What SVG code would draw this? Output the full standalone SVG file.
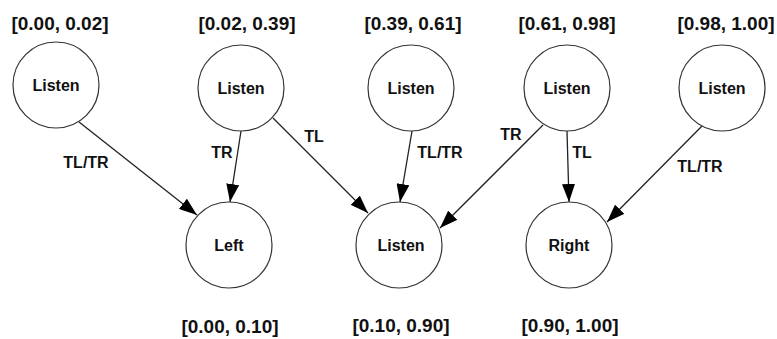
<svg xmlns="http://www.w3.org/2000/svg" width="777" height="339" viewBox="0 0 777 339">
<style>
.n{fill:#fff;stroke:#333;stroke-width:1.2}
.t{font-family:"Liberation Sans",Arial,sans-serif;font-weight:bold;fill:#111;text-anchor:middle}
.nl{font-size:16px}
.rl{font-size:19px}
.el{font-size:16px}
.e{stroke:#222;stroke-width:1.3;fill:none;marker-end:url(#ah)}
</style>
<defs>
<marker id="ah" markerUnits="userSpaceOnUse" markerWidth="18" markerHeight="13" viewBox="0 0 18 13" refX="18" refY="6.5" orient="auto">
<path d="M0,0 L18,6.5 L0,13 Z" fill="#000"/>
</marker>
</defs>
<g id="connectors">
<line class="e" x1="79" y1="122" x2="197" y2="215"/>
<line class="e" x1="241" y1="131" x2="230" y2="202"/>
<line class="e" x1="273" y1="118" x2="368" y2="213"/>
<line class="e" x1="412" y1="131" x2="400" y2="202"/>
<line class="e" x1="543" y1="125" x2="440" y2="228"/>
<line class="e" x1="567" y1="131" x2="569" y2="202"/>
<line class="e" x1="702" y1="126" x2="607" y2="222"/>
<text class="t el" x="86" y="168">TL/TR</text>
<text class="t el" x="222" y="158">TR</text>
<text class="t el" x="314" y="142">TL</text>
<text class="t el" x="440" y="158">TL/TR</text>
<text class="t el" x="511" y="140">TR</text>
<text class="t el" x="582" y="158">TL</text>
<text class="t el" x="700" y="172">TL/TR</text>
</g>
<g id="n1"><circle class="n" cx="56" cy="85" r="43"/><text class="t nl" x="56" y="91">Listen</text><text class="t rl" x="60" y="30">[0.00, 0.02]</text></g>
<g id="n2"><circle class="n" cx="241" cy="88" r="43"/><text class="t nl" x="241" y="94">Listen</text><text class="t rl" x="247" y="30">[0.02, 0.39]</text></g>
<g id="n3"><circle class="n" cx="411" cy="88" r="43"/><text class="t nl" x="411" y="94">Listen</text><text class="t rl" x="413" y="30">[0.39, 0.61]</text></g>
<g id="n4"><circle class="n" cx="567" cy="88" r="43"/><text class="t nl" x="567" y="94">Listen</text><text class="t rl" x="567" y="30">[0.61, 0.98]</text></g>
<g id="n5"><circle class="n" cx="722" cy="88" r="43"/><text class="t nl" x="722" y="94">Listen</text><text class="t rl" x="726" y="30">[0.98, 1.00]</text></g>
<g id="left"><circle class="n" cx="229" cy="245" r="43"/><text class="t nl" x="229" y="251">Left</text><text class="t rl" x="230" y="333">[0.00, 0.10]</text></g>
<g id="listen"><circle class="n" cx="399" cy="245" r="43"/><text class="t nl" x="401" y="251">Listen</text><text class="t rl" x="401" y="332">[0.10, 0.90]</text></g>
<g id="right"><circle class="n" cx="569" cy="245" r="43"/><text class="t nl" x="569" y="251">Right</text><text class="t rl" x="570" y="332">[0.90, 1.00]</text></g>
</svg>
